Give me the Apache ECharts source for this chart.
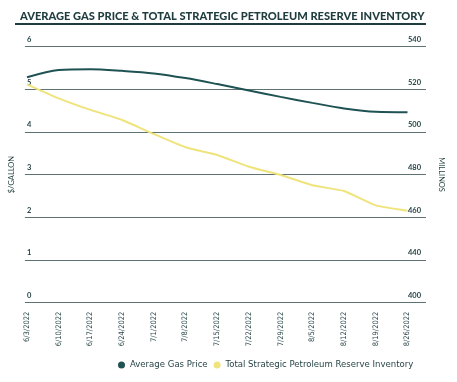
<!DOCTYPE html>
<html>
<head>
<meta charset="utf-8">
<script src="https://cdn.jsdelivr.net/npm/echarts@6/dist/echarts.min.js"></script>
<style>html,body{margin:0;padding:0;background:#fff}#c{width:457px;height:382px}</style>
</head>
<body>
<div id="c"></div>
<script>
var titleText = 'AVERAGE GAS PRICE & TOTAL STRATEGIC PETROLEUM RESERVE INVENTORY';
var dates = ['6/3/2022','6/10/2022','6/17/2022','6/24/2022','7/1/2022','7/8/2022','7/15/2022','7/22/2022','7/29/2022','8/5/2022','8/12/2022','8/19/2022','8/26/2022'];
var gasPrice = [5.28,5.45,5.47,5.43,5.37,5.26,5.12,4.97,4.82,4.68,4.55,4.47,4.46];
var sprInventory = [522.3,515.7,510.3,505.6,499.0,492.8,489.2,483.7,479.8,475.0,472.3,465.6,463.1];
var leftTicks = {min:0, max:6, interval:1};
var rightTicks = {min:420, max:540, interval:20};
var rightLabelMap = {420:'400'};
var seriesNames = ['Average Gas Price','Total Strategic Petroleum Reserve Inventory'];

var dark = '#1f3d3f';
var gasColor = '#1f5253';
var sprColor = '#efe47c';
var gridColor = '#5f7273';
var narrow = '"Liberation Sans Narrow", "DejaVu Sans Condensed", sans-serif';

var chart = echarts.init(document.getElementById('c'), null, {renderer:'canvas'});
chart.setOption({
  animation:false,
  title:{text:titleText,left:15,top:6,textStyle:{fontFamily:'Lato',fontWeight:900,fontSize:11.1,color:dark}},
  graphic:[{type:'rect',shape:{x:15,y:23,width:411,height:2},style:{fill:dark},silent:true}],
  legend:{bottom:7,left:113,itemWidth:7,itemHeight:7,itemGap:6,icon:'circle',
    textStyle:{fontFamily:narrow,fontSize:9.5,color:dark},
    data:seriesNames},
  grid:[
    {left:16,right:31,top:46.5,bottom:79.3,containLabel:false},
    {left:27,right:49.5,top:46.5,bottom:79.3,containLabel:false}
  ],
  xAxis:[
    {gridIndex:0,type:'value',min:0,max:1,show:false},
    {gridIndex:1,type:'category',data:dates,boundaryGap:false,
      axisLine:{show:false},axisTick:{show:false},splitLine:{show:false},
      axisLabel:{rotate:90,margin:9,fontFamily:narrow,fontSize:7.5,color:dark,interval:0}}
  ],
  yAxis:[
    {gridIndex:0,type:'value',position:'left',min:leftTicks.min,max:leftTicks.max,interval:leftTicks.interval,
      name:'$/GALLON',nameLocation:'middle',nameGap:7,nameRotate:90,
      nameTextStyle:{fontFamily:'Lato',fontSize:7.5,color:dark},
      axisLine:{show:false},axisTick:{show:false},
      splitLine:{show:true,lineStyle:{color:gridColor,width:1}},
      axisLabel:{inside:true,margin:2,verticalAlign:'bottom',padding:[0,0,3,0],fontFamily:'Lato',fontWeight:'bold',fontSize:7.5,color:dark}},
    {gridIndex:0,type:'value',position:'right',min:rightTicks.min,max:rightTicks.max,interval:rightTicks.interval,
      name:'MILLINOS',nameLocation:'middle',nameGap:11,nameRotate:-90,
      nameTextStyle:{fontFamily:'Lato',fontSize:7.5,color:dark},
      axisLine:{show:false},axisTick:{show:false},splitLine:{show:false},
      axisLabel:{inside:true,margin:5,verticalAlign:'bottom',padding:[0,0,3,0],fontFamily:'Lato',fontWeight:'bold',fontSize:7.5,color:dark,
        formatter:function(v){return rightLabelMap[v]!==undefined?rightLabelMap[v]:String(v);}}},
    {gridIndex:1,type:'value',min:leftTicks.min,max:leftTicks.max,show:false,splitLine:{show:false}},
    {gridIndex:1,type:'value',min:rightTicks.min,max:rightTicks.max,show:false,splitLine:{show:false}}
  ],
  series:[
    {name:seriesNames[0],type:'line',xAxisIndex:1,yAxisIndex:2,data:gasPrice,smooth:0.3,symbol:'none',
      lineStyle:{color:gasColor,width:2},itemStyle:{color:gasColor}},
    {name:seriesNames[1],type:'line',xAxisIndex:1,yAxisIndex:3,data:sprInventory,smooth:0.15,symbol:'none',
      lineStyle:{color:sprColor,width:2},itemStyle:{color:sprColor}}
  ]
});
</script>
</body>
</html>
